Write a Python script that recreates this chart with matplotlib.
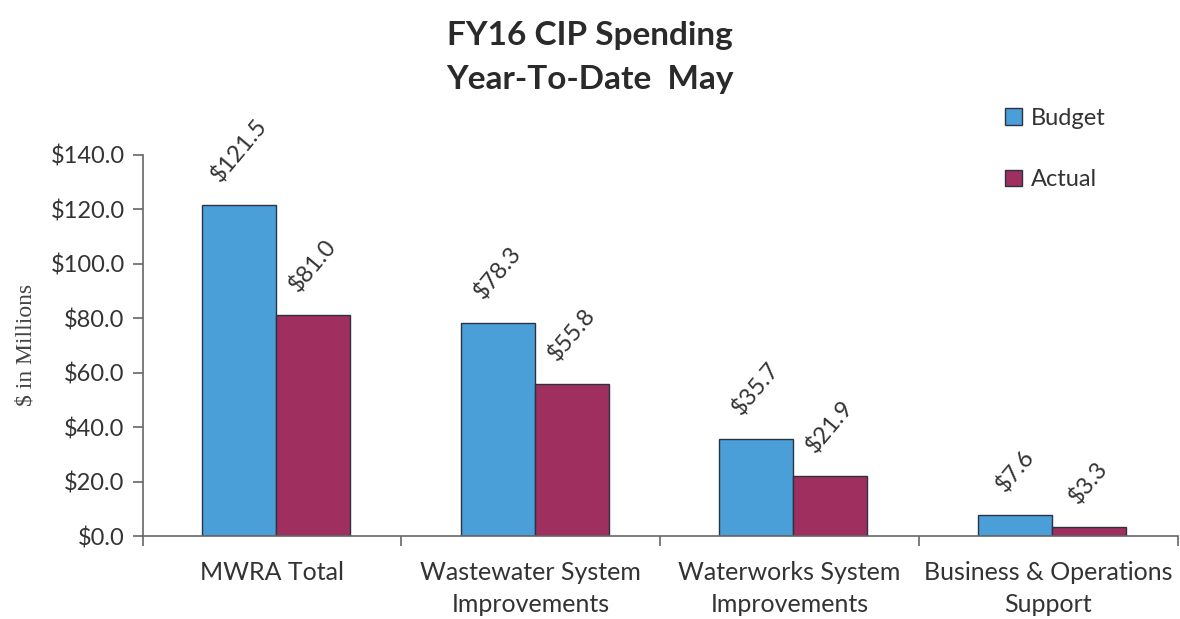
import numpy as np
import matplotlib.pyplot as plt

categories = ['MWRA Total', 'Wastewater System\nImprovements',
              'Waterworks System\nImprovements', 'Business & Operations\nSupport']
budget = [121.5, 78.3, 35.7, 7.6]
actual = [81.0, 55.8, 21.9, 3.3]
yticks = [0, 20, 40, 60, 80, 100, 120, 140]

plt.rcParams['font.family'] = ['Lato', 'DejaVu Sans']
txt = '#333333'

fig = plt.figure(figsize=(11.8, 6.19), dpi=100)
ax = fig.add_axes([0.121, 0.134, 0.877, 0.616])

x = np.arange(len(categories)) + 0.015
w = 0.286
b1 = ax.bar(x - w / 2, budget, w, color='#4b9fd9', edgecolor='#2b3340', linewidth=1.0, label='Budget')
b2 = ax.bar(x + w / 2, actual, w, color='#9e2f5e', edgecolor='#2b3340', linewidth=1.0, label='Actual')

# rotated value labels centred above each bar
for bars, vals in ((b1, budget), (b2, actual)):
    for r, v in zip(bars, vals):
        ax.annotate(f'${v:.1f}', (r.get_x() + r.get_width() / 2, v), xytext=(0, 14),
                    textcoords='offset points', rotation=50, ha='center', va='bottom',
                    fontsize=17, color=txt)

ax.set_xlim(-0.5, 3.5)
ax.set_ylim(0, 140)
ax.set_yticks(yticks)
ax.set_yticklabels([f'${t:.1f}' for t in yticks], fontsize=17, color=txt)
ax.set_xticks(np.arange(len(categories)))
ax.set_xticklabels(categories, fontsize=18, color=txt, linespacing=1.45)
ax.tick_params(axis='x', which='major', length=0, pad=18)
ax.set_xticks(np.arange(-0.5, 4.0, 1.0), minor=True)
ax.tick_params(axis='x', which='minor', length=7, color='#666666', width=1.2)
ax.tick_params(axis='y', length=7, color='#666666', width=1.2, pad=6)

for s in ('top', 'right'):
    ax.spines[s].set_visible(False)
for s in ('left', 'bottom'):
    ax.spines[s].set_color('#666666')
    ax.spines[s].set_linewidth(1.2)

ax.set_ylabel('$ in Millions', family='Liberation Serif', fontsize=17, color='#444444', labelpad=10)

fig.text(0.5, 0.943, 'FY16 CIP Spending', ha='center', va='center',
         fontsize=24, fontweight='bold', color='#2a2a2a')
fig.text(0.5, 0.872, 'Year-To-Date  May', ha='center', va='center',
         fontsize=24, fontweight='bold', color='#2a2a2a')

fig.legend(handles=[b1, b2], loc='upper left', bbox_to_anchor=(0.834, 0.86),
           frameon=False, fontsize=17, handlelength=0.7, handleheight=0.7,
           handletextpad=0.4, labelspacing=1.7, labelcolor=txt)

fig.savefig('out.png', dpi=100)
